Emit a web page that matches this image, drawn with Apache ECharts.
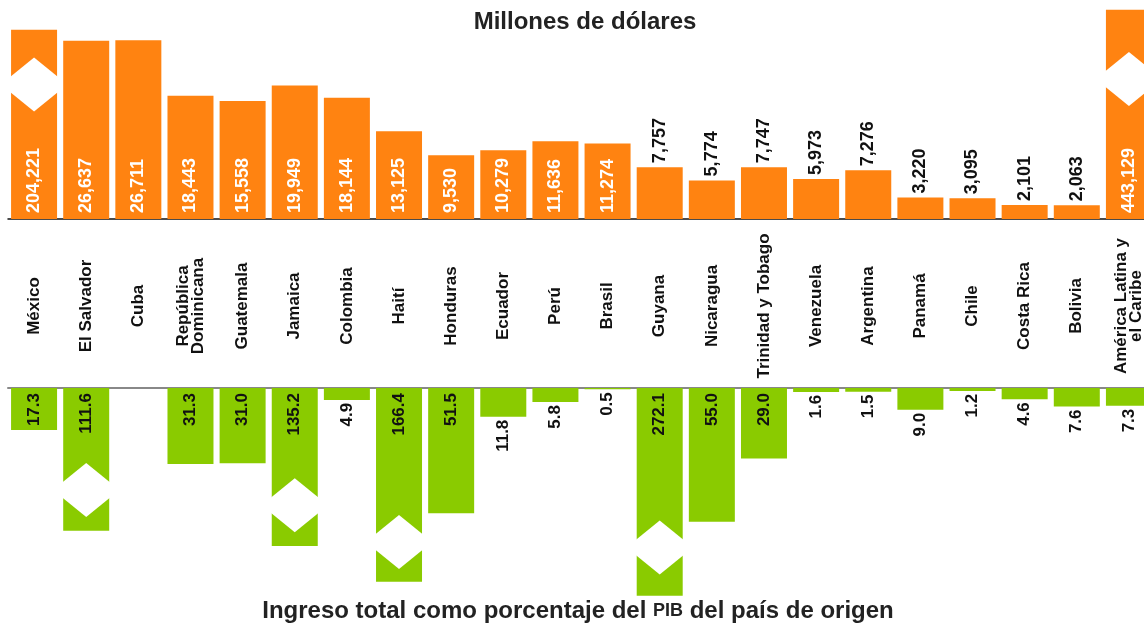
<!DOCTYPE html>
<html>
<head>
<meta charset="utf-8">
<script src="https://cdn.jsdelivr.net/npm/echarts@6/dist/echarts.min.js"></script>
<style>
    html, body {margin: 0; padding: 0; background: #fff;}
    #chartBox {width: 1144px; height: 624px; overflow: hidden;}
</style>
</head>
<body>
<div id="chartBox"></div>
<script>
// categorias
let paises = ['México', 'El Salvador', 'Cuba', 'República\nDominicana', 'Guatemala', 'Jamaica', 'Colombia',
    'Haití', 'Honduras', 'Ecuador', 'Perú', 'Brasil', 'Guyana', 'Nicaragua', 'Trinidad y Tobago', 'Venezuela',
    'Argentina', 'Panamá', 'Chile', 'Costa Rica', 'Bolivia', 'América Latina y\nel Caribe'];
// millones de dolares (etiquetas)
let millones = [204221, 26637, 26711, 18443, 15558, 19949, 18144, 13125, 9530, 10279, 11636, 11274,
    7757, 5774, 7747, 5973, 7276, 3220, 3095, 2101, 2063, 443129];
// altura dibujada de cada barra (las cortadas se truncan)
let alturaMillones = [28300, 26637, 26711, 18443, 17650, 19949, 18144, 13125, 9530, 10279, 11636, 11274,
    7757, 5774, 7747, 5973, 7276, 3220, 3095, 2101, 2063, 31300];
// ingreso como % del PIB
let pib = [17.3, 111.6, null, 31.3, 31.0, 135.2, 4.9, 166.4, 51.5, 11.8, 5.8, 0.5,
    272.1, 55.0, 29.0, 1.6, 1.5, 9.0, 1.2, 4.6, 7.6, 7.3];
let alturaPib = [17.3, 58.7, null, 31.3, 31.0, 65.0, 4.9, 79.7, 51.5, 11.8, 5.8, 0.5,
    85.5, 55.0, 29.0, 1.6, 1.5, 9.0, 1.2, 4.6, 7.6, 7.3];
// posicion de los cortes [indice, valor]
let cortesMillones = [[0, 20110], [21, 20940]];
let cortesPib = [[1, 42.0], [5, 48.3], [7, 63.4], [12, 65.6]];

let fuente = "'Liberation Sans', Arial, Helvetica, sans-serif";
let naranja = '#FF8311';
let verde = '#8ACB00';

function miles(v) {
    return String(v).replace(/\B(?=(\d{3})+(?!\d))/g, ',');
}

// rombo blanco que marca el corte de la barra
function dibujarCorte(params, api) {
    let p = api.coord([api.value(0), api.value(1)]);
    let w = 24, t = 19.5, b = 7.5;
    return {
        type: 'polygon',
        shape: {
            points: [[p[0], p[1] - b - t], [p[0] + w, p[1] - b], [p[0] + w, p[1] + b],
                [p[0], p[1] + b + t], [p[0] - w, p[1] + b], [p[0] - w, p[1] - b]]
        },
        style: {fill: '#fff'}
    };
}

let datosSup = alturaMillones.map(function (v, i) {
    let dentro = millones[i] > 9000;
    return {
        value: v,
        label: dentro ? {position: 'insideBottom', distance: 6, color: '#fff'}
            : {position: 'top', distance: 4, color: '#111'}
    };
});

let datosInf = alturaPib.map(function (v, i) {
    if (v === null) return '-';
    let dentro = pib[i] > 15;
    return {
        value: v,
        label: dentro ? {position: 'insideTop', distance: 5} : {position: 'bottom', distance: 3}
    };
});

let chartBox = echarts.init(document.getElementById('chartBox'));
let option = {
    animation: false,
    textStyle: {fontFamily: fuente},
    grid: [
        {left: 8, width: 1147, top: 5, height: 214, outerBoundsMode: 'none'},
        {left: 8, width: 1147, top: 388, height: 243, outerBoundsMode: 'none'}
    ],
    xAxis: [{
        type: 'category', gridIndex: 0, data: paises,
        axisLine: {show: true, lineStyle: {color: '#111', width: 1.5}},
        axisTick: {show: false},
        axisLabel: {
            interval: 0, rotate: 90, align: 'center', verticalAlign: 'middle', margin: 87,
            color: '#111', fontSize: 17, fontWeight: 'bold', lineHeight: 15, fontFamily: fuente
        }
    }, {
        type: 'category', gridIndex: 1, data: paises, position: 'top',
        axisLine: {show: true, onZero: false, lineStyle: {color: '#888', width: 2}},
        axisTick: {show: false},
        axisLabel: {show: false}
    }],
    yAxis: [{
        type: 'value', gridIndex: 0, min: 0, max: 32000, show: false
    }, {
        type: 'value', gridIndex: 1, min: 0, max: 100, inverse: true, show: false
    }],
    graphic: [{
        type: 'text', x: 585, y: 22,
        style: {
            text: 'Millones de dólares', align: 'center', verticalAlign: 'middle',
            fill: '#222', font: 'bold 24px ' + fuente
        }
    }, {
        type: 'text', x: 578, y: 611,
        style: {
            text: '{a|Ingreso total como porcentaje del }{b|PIB}{a| del país de origen}',
            align: 'center', verticalAlign: 'middle',
            rich: {
                a: {fontSize: 24, fontWeight: 'bold', fontFamily: fuente, fill: '#222'},
                b: {fontSize: 18, fontWeight: 'bold', fontFamily: fuente, fill: '#222'}
            }
        }
    }],
    series: [{
        type: 'bar', xAxisIndex: 0, yAxisIndex: 0, barWidth: 46, z: 2,
        itemStyle: {color: naranja},
        label: {
            show: true, rotate: 90, align: 'left', verticalAlign: 'middle',
            fontSize: 18, fontWeight: 'bold', fontFamily: fuente,
            formatter: function (p) { return miles(millones[p.dataIndex]); }
        },
        data: datosSup
    }, {
        type: 'custom', xAxisIndex: 0, yAxisIndex: 0, z: 3, silent: true,
        renderItem: dibujarCorte, data: cortesMillones
    }, {
        type: 'bar', xAxisIndex: 1, yAxisIndex: 1, barWidth: 46, z: 2,
        itemStyle: {color: verde},
        label: {
            show: true, rotate: 90, align: 'right', verticalAlign: 'middle',
            fontSize: 17, fontWeight: 'bold', color: '#111', fontFamily: fuente,
            formatter: function (p) { return pib[p.dataIndex].toFixed(1); }
        },
        data: datosInf
    }, {
        type: 'custom', xAxisIndex: 1, yAxisIndex: 1, z: 3, silent: true,
        renderItem: dibujarCorte, data: cortesPib
    }]
};
chartBox.setOption(option, true);
</script>
</body>
</html>
